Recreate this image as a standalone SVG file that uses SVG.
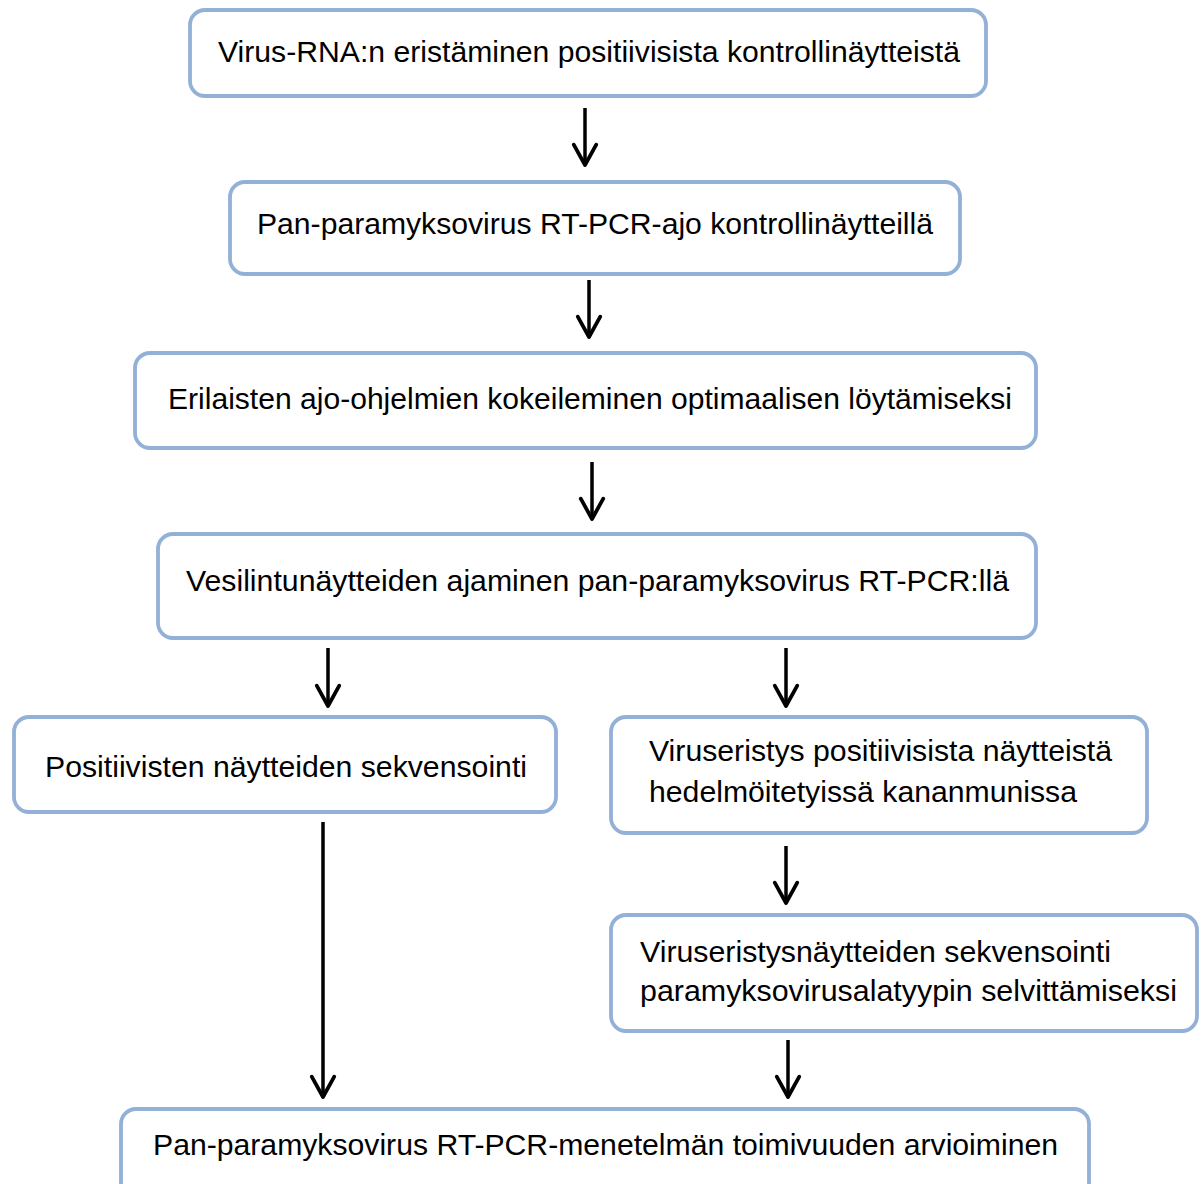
<svg xmlns="http://www.w3.org/2000/svg" width="1202" height="1184" viewBox="0 0 1202 1184">
<style>
.box{fill:#ffffff;stroke:#93b0d6;stroke-width:3.8}
.t{font-family:"Liberation Sans",Arial,sans-serif;font-size:30px;fill:#000000}
.c{stroke:#000000;stroke-width:3.5;fill:none}
</style>
<defs>
<marker id="ah" markerUnits="userSpaceOnUse" markerWidth="30" markerHeight="30" viewBox="-22 -14 26 28" refX="0" refY="0" orient="auto" overflow="visible">
<path d="M-19,-10.5 L0,0 L-19,10.5" fill="none" stroke="#000" stroke-width="3.5" stroke-linejoin="round" stroke-linecap="round"/>
</marker>
</defs>
<rect width="1202" height="1184" fill="#ffffff"/>
<g id="connectors">
<line class="c" x1="585" y1="108" x2="585" y2="165" marker-end="url(#ah)"/>
<line class="c" x1="589" y1="280" x2="589" y2="337" marker-end="url(#ah)"/>
<line class="c" x1="592" y1="462" x2="592" y2="519" marker-end="url(#ah)"/>
<line class="c" x1="328" y1="648" x2="328" y2="706" marker-end="url(#ah)"/>
<line class="c" x1="786" y1="648" x2="786" y2="706" marker-end="url(#ah)"/>
<line class="c" x1="323" y1="822" x2="323" y2="1097" marker-end="url(#ah)"/>
<line class="c" x1="786" y1="846" x2="786" y2="903" marker-end="url(#ah)"/>
<line class="c" x1="788" y1="1040" x2="788" y2="1097" marker-end="url(#ah)"/>
</g>
<g id="n1">
<rect class="box" x="190" y="10" width="796" height="86" rx="15"/>
<text class="t" x="218" y="62" textLength="742" lengthAdjust="spacingAndGlyphs">Virus-RNA:n eristäminen positiivisista kontrollinäytteistä</text>
</g>
<g id="n2">
<rect class="box" x="230" y="182" width="730" height="92" rx="15"/>
<text class="t" x="257" y="234" textLength="676" lengthAdjust="spacingAndGlyphs">Pan-paramyksovirus RT-PCR-ajo kontrollinäytteillä</text>
</g>
<g id="n3">
<rect class="box" x="135" y="353" width="901" height="95" rx="15"/>
<text class="t" x="168" y="409" textLength="844" lengthAdjust="spacingAndGlyphs">Erilaisten ajo-ohjelmien kokeileminen optimaalisen löytämiseksi</text>
</g>
<g id="n4">
<rect class="box" x="158" y="534" width="878" height="104" rx="15"/>
<text class="t" x="186" y="591" textLength="823" lengthAdjust="spacingAndGlyphs">Vesilintunäytteiden ajaminen pan-paramyksovirus RT-PCR:llä</text>
</g>
<g id="n5">
<rect class="box" x="14" y="717" width="542" height="95" rx="15"/>
<text class="t" x="45" y="777" textLength="482" lengthAdjust="spacingAndGlyphs">Positiivisten näytteiden sekvensointi</text>
</g>
<g id="n6">
<rect class="box" x="611" y="717" width="536" height="116" rx="15"/>
<text class="t" x="649" y="761" textLength="463" lengthAdjust="spacingAndGlyphs">Viruseristys positiivisista näytteistä</text>
<text class="t" x="649" y="802" textLength="428" lengthAdjust="spacingAndGlyphs">hedelmöitetyissä kananmunissa</text>
</g>
<g id="n7">
<rect class="box" x="611" y="915" width="586" height="116" rx="15"/>
<text class="t" x="640" y="962" textLength="471" lengthAdjust="spacingAndGlyphs">Viruseristysnäytteiden sekvensointi</text>
<text class="t" x="640" y="1001" textLength="537" lengthAdjust="spacingAndGlyphs">paramyksovirusalatyypin selvittämiseksi</text>
</g>
<g id="n8">
<rect class="box" x="121" y="1109" width="968" height="95" rx="15"/>
<text class="t" x="153" y="1155" textLength="905" lengthAdjust="spacingAndGlyphs">Pan-paramyksovirus RT-PCR-menetelmän toimivuuden arvioiminen</text>
</g>
</svg>
